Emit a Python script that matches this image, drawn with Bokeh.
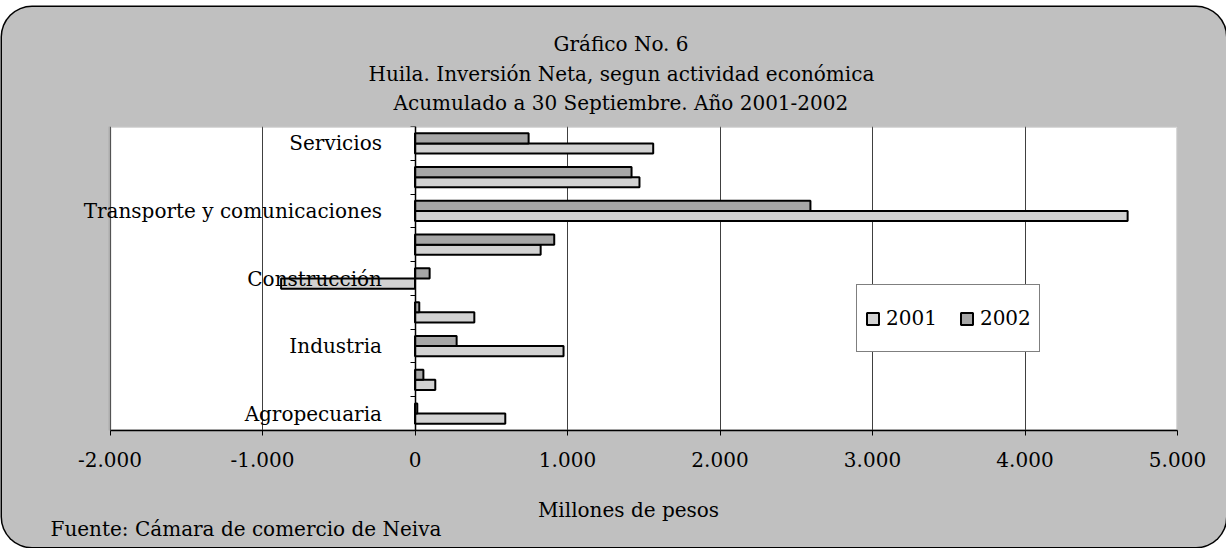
from bokeh.plotting import figure
from bokeh.models import (Range1d, FixedTicker, Title, BoxAnnotation, Legend, LegendItem,
                          ColumnDataSource)
from bokeh.embed import file_html
from bokeh.resources import INLINE

FONT = "DejaVu Serif"
FS = "20px"

title_lines = [
    "Gráfico No. 6",
    "Huila. Inversión Neta, segun actividad económica",
    "Acumulado a 30 Septiembre. Año 2001-2002",
]
categories = ["Agropecuaria", "", "Industria", "", "Construcción", "",
              "Transporte y comunicaciones", "", "Servicios"]
values_2001 = [592, 133, 974, 389, -878, 824, 4673, 1472, 1562]
values_2002 = [15, 55, 273, 28, 96, 913, 2593, 1420, 745]
series_names = ["2001", "2002"]
x_ticks = [-2000, -1000, 0, 1000, 2000, 3000, 4000, 5000]
x_tick_labels = ["-2.000", "-1.000", "0", "1.000", "2.000", "3.000", "4.000", "5.000"]
x_axis_title = "Millones de pesos"
source_note = "Fuente: Cámara de comercio de Neiva"

positions = list(range(len(categories)))
X_START = -2200   # frame extends a bit left of the plot area so long labels fit


def make_title(text, align, offset, standoff):
    try:
        return Title(text=text, align=align, offset=offset, standoff=standoff,
                     text_font=FONT, text_font_size=FS, text_font_style="normal",
                     text_color="black")
    except ValueError:
        return Title(text=text, align=align, offset=offset, standoff=max(standoff, 0),
                     text_font=FONT, text_font_size=FS, text_font_style="normal",
                     text_color="black")


p = figure(width=1224, height=540,
           x_range=Range1d(X_START, x_ticks[-1]),
           y_range=Range1d(-0.5, len(categories) - 0.5),
           output_backend="svg", toolbar_location=None, title=None,
           min_border_left=77, min_border_right=49,
           min_border_top=119, min_border_bottom=117,
           background_fill_color=None, border_fill_color=None,
           outline_line_color=None,
           margin=(7, 0, 0, 2))
p.styles = {"background-color": "#C0C0C0", "border-radius": "30px",
            "box-shadow": "0 0 0 1.5px #000"}

# white plot area (from the first tick on) and its grey border
p.add_layout(BoxAnnotation(left=x_ticks[0], fill_color="white", fill_alpha=1,
                           line_color=None, level="image"))
p.add_layout(BoxAnnotation(left=x_ticks[0], fill_alpha=0, line_color="#808080",
                           line_width=3, level="underlay"))

src = ColumnDataSource(dict(
    y01=[i - 0.15 for i in positions],
    y02=[i + 0.15 for i in positions],
    v01=values_2001,
    v02=values_2002,
))
r01 = p.hbar(y="y01", left=0, right="v01", height=0.3, source=src,
             fill_color="#D2D2D2", line_color="black", line_width=2)
r02 = p.hbar(y="y02", left=0, right="v02", height=0.3, source=src,
             fill_color="#A6A6A6", line_color="black", line_width=2)

# grid
p.ygrid.visible = False
p.xgrid.ticker = FixedTicker(ticks=x_ticks)
p.xgrid.grid_line_color = "#404040"
p.xgrid.grid_line_width = 1

# x axis
xa = p.xaxis[0]
xa.ticker = FixedTicker(ticks=x_ticks)
xa.bounds = (x_ticks[0], x_ticks[-1])
xa.major_label_overrides = dict(zip(x_ticks, x_tick_labels))
xa.axis_line_color = "black"
xa.axis_line_width = 1.5
xa.major_tick_out = 5
xa.major_tick_in = 0
xa.major_tick_line_color = "black"
xa.minor_tick_line_color = None
xa.major_label_standoff = 16
xa.major_label_text_font = FONT
xa.major_label_text_font_size = FS
xa.major_label_text_color = "black"
xa.axis_label = x_axis_title
xa.axis_label_text_font = FONT
xa.axis_label_text_font_size = FS
xa.axis_label_text_font_style = "normal"
xa.axis_label_text_color = "black"
xa.axis_label_standoff = 28

# y (category) axis crossing at zero
lab_idx = [i for i, c in enumerate(categories) if c]
ya = p.yaxis[0]
ya.fixed_location = 0
ya.ticker = FixedTicker(ticks=lab_idx,
                        minor_ticks=[i - 0.5 for i in range(len(categories) + 1)])
ya.major_label_overrides = {i: categories[i] for i in lab_idx}
ya.major_tick_line_color = None
ya.major_tick_out = 0
ya.major_tick_in = 0
ya.minor_tick_out = 5
ya.minor_tick_in = 0
ya.minor_tick_line_color = "black"
ya.axis_line_color = "black"
ya.axis_line_width = 1.5
ya.major_label_standoff = 28
ya.major_label_text_font = FONT
ya.major_label_text_font_size = FS
ya.major_label_text_color = "black"

# titles (nearest the plot first); left-aligned with offsets so they are
# centred on the whole chart rather than on the plot frame
title_offsets = [474, 289, 314]
title_standoffs = [25, -17, 23]
for txt, off, so in reversed(list(zip(title_lines, title_offsets, title_standoffs))):
    p.add_layout(make_title(txt, "left", off, so), "above")

# source note under the axis title
p.add_layout(make_title(source_note, "left", -29, -20), "below")

legend = Legend(items=[LegendItem(label=series_names[0], renderers=[r01]),
                       LegendItem(label=series_names[1], renderers=[r02])],
                orientation="horizontal", location=(777, 78),
                label_text_font=FONT, label_text_font_size=FS,
                label_text_color="black",
                glyph_width=15, glyph_height=15, label_standoff=6,
                spacing=22, padding=8, label_height=50, margin=0,
                border_line_color="black", border_line_width=1,
                background_fill_color="white", background_fill_alpha=1)
p.add_layout(legend)

open("out.html", "w").write(file_html(p, INLINE))
